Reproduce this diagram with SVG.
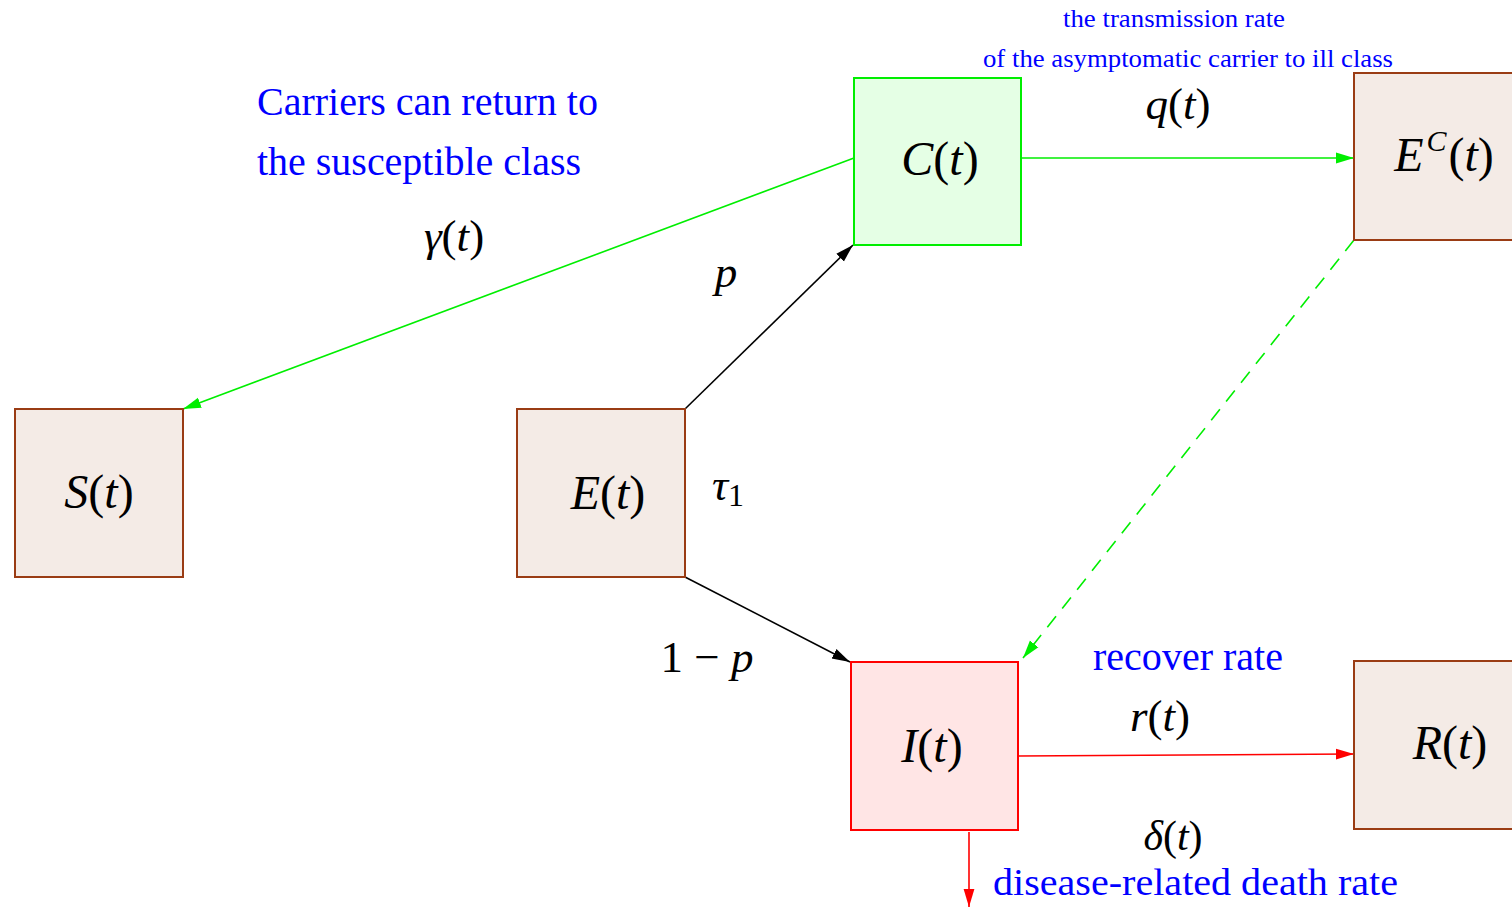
<svg xmlns="http://www.w3.org/2000/svg" width="1512" height="907" viewBox="0 0 1512 907">
<style>
.box{fill:#f4ebe6;stroke:#9a3c14;stroke-width:2}
.cbox{fill:#e5ffe5;stroke:#00ee00;stroke-width:2}
.ibox{fill:#ffe5e5;stroke:#ff0000;stroke-width:2}
.m{font-family:"Liberation Serif","Times New Roman",serif;fill:#000}
.i{font-style:italic}
.lbl{font-size:48px;text-anchor:middle}
.ml{font-size:45px;text-anchor:middle}
.blue{font-family:"Liberation Serif","Times New Roman",serif;fill:#0000ff}
.g{stroke:#00ee00;stroke-width:1.6;fill:none}
.k{stroke:#000;stroke-width:1.6;fill:none}
.r{stroke:#ff0000;stroke-width:1.6;fill:none}
</style>
<defs>
<marker id="ag" viewBox="0 0 10 10" refX="10" refY="5" markerWidth="18" markerHeight="18" markerUnits="userSpaceOnUse" orient="auto"><path d="M0,2 L10,5 L0,8 z" fill="#00ee00"/></marker>
<marker id="ak" viewBox="0 0 10 10" refX="10" refY="5" markerWidth="18" markerHeight="18" markerUnits="userSpaceOnUse" orient="auto"><path d="M0,2 L10,5 L0,8 z" fill="#000"/></marker>
<marker id="ar" viewBox="0 0 10 10" refX="10" refY="5" markerWidth="18" markerHeight="18" markerUnits="userSpaceOnUse" orient="auto"><path d="M0,2 L10,5 L0,8 z" fill="#ff0000"/></marker>
</defs>
<rect width="1512" height="907" fill="#fff"/>
<g id="connectors">
<line class="g" x1="854" y1="158" x2="183" y2="409" marker-end="url(#ag)"/>
<line class="g" x1="1021" y1="158" x2="1354" y2="158" marker-end="url(#ag)"/>
<line class="k" x1="685" y1="409" x2="853" y2="245" marker-end="url(#ak)"/>
<line class="k" x1="685" y1="577" x2="850" y2="662" marker-end="url(#ak)"/>
<line class="g" x1="1354" y1="240" x2="1023" y2="658" stroke-dasharray="14,10" marker-end="url(#ag)"/>
<line class="r" x1="1018" y1="756" x2="1354" y2="754" marker-end="url(#ar)"/>
<line class="r" x1="969" y1="832" x2="969" y2="907" stroke-width="1.2" marker-end="url(#ar)"/>
</g>
<g id="node-S"><rect class="box" x="15" y="409" width="168" height="168"/><text class="m lbl" x="99" y="508"><tspan class="i">S</tspan>(<tspan class="i">t</tspan>)</text></g>
<g id="node-E"><rect class="box" x="517" y="409" width="168" height="168"/><text class="m lbl" x="608" y="509"><tspan class="i">E</tspan>(<tspan class="i">t</tspan>)</text></g>
<g id="node-C"><rect class="cbox" x="854" y="78" width="167" height="167"/><text class="m lbl" x="940" y="175"><tspan class="i">C</tspan>(<tspan class="i">t</tspan>)</text></g>
<g id="node-EC"><rect class="box" x="1354" y="73" width="170" height="167"/><text class="m lbl" x="1444" y="171"><tspan class="i">E</tspan><tspan class="i" font-size="30" dx="3" dy="-20">C</tspan><tspan dx="2" dy="20">(</tspan><tspan class="i">t</tspan>)</text></g>
<g id="node-I"><rect class="ibox" x="851" y="662" width="167" height="168"/><text class="m lbl" x="932" y="762"><tspan class="i">I</tspan>(<tspan class="i">t</tspan>)</text></g>
<g id="node-R"><rect class="box" x="1354" y="661" width="170" height="168"/><text class="m lbl" x="1450" y="759"><tspan class="i">R</tspan>(<tspan class="i">t</tspan>)</text></g>
<g id="labels">
<text class="m ml" x="454" y="251"><tspan class="i">γ</tspan>(<tspan class="i">t</tspan>)</text>
<text class="m ml i" x="726" y="287">p</text>
<text class="m ml" x="728" y="500"><tspan class="i">τ</tspan><tspan font-size="32" dy="6">1</tspan></text>
<text class="m ml" x="707" y="672">1 − <tspan class="i">p</tspan></text>
<text class="m ml" x="1178" y="119"><tspan class="i">q</tspan>(<tspan class="i">t</tspan>)</text>
<text class="m ml" x="1160" y="731"><tspan class="i">r</tspan>(<tspan class="i">t</tspan>)</text>
<text class="m" x="1173" y="850" font-size="42" text-anchor="middle"><tspan class="i">δ</tspan>(<tspan class="i">t</tspan>)</text>
<text class="blue" x="257" y="115" font-size="40" textLength="341" lengthAdjust="spacingAndGlyphs">Carriers can return to</text>
<text class="blue" x="257" y="175" font-size="40" textLength="324" lengthAdjust="spacingAndGlyphs">the susceptible class</text>
<text class="blue" x="1063" y="27" font-size="26" textLength="222" lengthAdjust="spacingAndGlyphs">the transmission rate</text>
<text class="blue" x="983" y="67" font-size="26" textLength="410" lengthAdjust="spacingAndGlyphs">of the asymptomatic carrier to ill class</text>
<text class="blue" x="1093" y="670" font-size="40" textLength="190" lengthAdjust="spacingAndGlyphs">recover rate</text>
<text class="blue" x="993" y="895" font-size="38" textLength="405" lengthAdjust="spacingAndGlyphs">disease-related death rate</text>
</g>
</svg>
